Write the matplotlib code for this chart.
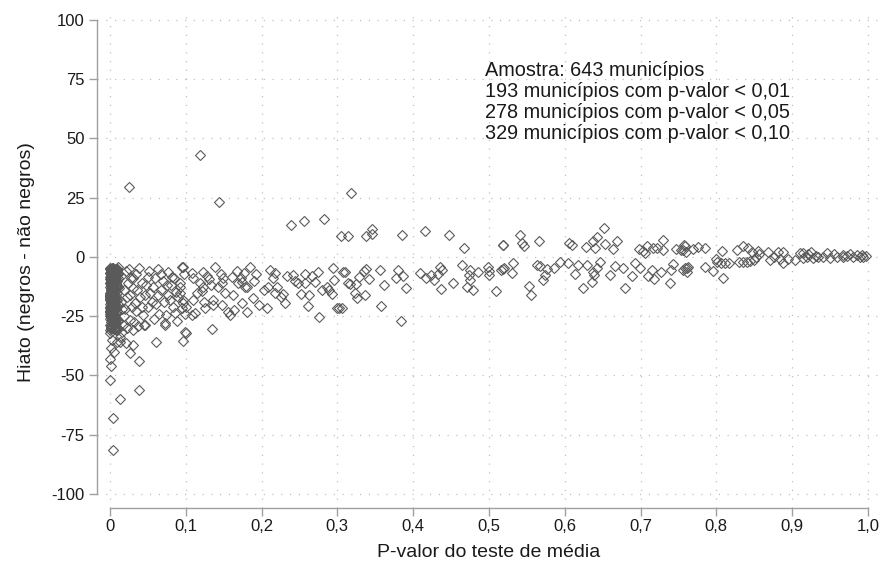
import matplotlib
matplotlib.use("Agg")
import matplotlib.pyplot as plt
from matplotlib.ticker import FuncFormatter

plt.rcParams["font.family"] = ["Liberation Sans", "DejaVu Sans"]

# --- dados (p-valor, hiato) ---
# bloco denso em p ~ 0
p_denso = [
    0.001, 0.004, 0.000, 0.007, 0.002, 0.009, 0.003, 0.001, 0.006, 0.000,
    0.008, 0.002, 0.005, 0.003, 0.010, 0.001, 0.004, 0.007, 0.000, 0.011,
    0.006, 0.002, 0.009, 0.003, 0.005, 0.001, 0.008, 0.004, 0.000, 0.010,
    0.002, 0.007, 0.005, 0.001, 0.003, 0.009, 0.006, 0.000, 0.011, 0.004,
    0.002, 0.008, 0.001, 0.005, 0.003, 0.007, 0.000, 0.010, 0.006, 0.002,
    0.004, 0.009, 0.001, 0.003, 0.008, 0.000, 0.005, 0.007, 0.002, 0.011,
    0.004, 0.001, 0.006, 0.003, 0.009, 0.000, 0.005, 0.002, 0.008, 0.007,
    0.001, 0.004, 0.010, 0.003, 0.000, 0.006, 0.002, 0.009, 0.005, 0.001,
    0.007, 0.003, 0.000, 0.008, 0.004, 0.011, 0.002, 0.006, 0.001, 0.005,
    0.009, 0.003, 0.000, 0.007, 0.004, 0.002, 0.010, 0.001, 0.006, 0.008,
    0.003, 0.005, 0.000, 0.002, 0.009, 0.004, 0.001, 0.007, 0.006, 0.003,
    0.000, 0.008, 0.005, 0.002, 0.011, 0.001, 0.004, 0.009, 0.006, 0.003,
]
h_denso = [
    -5, -12, -20, -27, -8, -15, -23, -30, -6, -18, -10, -25, -14, -29, -7, -21, -11, -17, -26, -9,
    -13, -24, -5, -19, -28, -16, -22, -6, -31, -12, -8, -20, -27, -14, -10, -23, -18, -25, -7, -15,
    -29, -11, -21, -9, -26, -13, -17, -30, -5, -24, -19, -6, -22, -12, -28, -16, -8, -20, -10, -27,
    -14, -25, -7, -18, -31, -11, -23, -15, -9, -21, -29, -13, -26, -6, -17, -19, -24, -5, -28, -12,
    -10, -22, -16, -30, -8, -20, -14, -27, -11, -25, -7, -18, -23, -9, -15, -29, -13, -21, -6, -26,
    -17, -12, -24, -19, -10, -28, -8, -22, -14, -30, -16, -5, -20, -11, -27, -9, -25, -18, -7, -23,
]
# mais municípios do mesmo bloco (p < 0,01)
p_denso2 = [
    0.000, 0.003, 0.006, 0.001, 0.004, 0.007, 0.002, 0.005, 0.008, 0.000,
    0.003, 0.006, 0.001, 0.004, 0.007, 0.002, 0.005, 0.008, 0.000, 0.003,
    0.006, 0.001, 0.004, 0.007, 0.002, 0.005, 0.008, 0.000, 0.003, 0.006,
    0.001, 0.004, 0.007, 0.002, 0.005, 0.008, 0.000, 0.003, 0.006, 0.001,
    0.004, 0.007, 0.002, 0.005, 0.008, 0.000, 0.003, 0.006, 0.001, 0.004,
    0.007, 0.002, 0.005, 0.008, 0.000, 0.003, 0.006, 0.001, 0.004, 0.007,
    0.002, 0.005, 0.008, 0.000, 0.003, 0.006, 0.001, 0.004, 0.007, 0.002,
    0.005, 0.008, 0.000, 0.003, 0.006,
]
h_denso2 = [
    -4.5, -9.5, -14.5, -19.5, -24.5, -29.5, -6.5, -11.5, -16.5, -21.5,
    -26.5, -5.5, -10.5, -15.5, -20.5, -25.5, -30.5, -7.5, -12.5, -17.5,
    -22.5, -27.5, -4.8, -8.8, -13.8, -18.8, -23.8, -28.8, -6.2, -11.2,
    -16.2, -21.2, -26.2, -30.2, -7.7, -12.7, -17.7, -22.7, -27.7, -5.1,
    -9.1, -14.1, -19.1, -24.1, -29.1, -6.8, -10.8, -15.8, -20.8, -25.8,
    -28.3, -8.3, -13.3, -18.3, -23.3, -4.6, -9.6, -14.6, -19.6, -24.6,
    -29.6, -7.1, -12.1, -17.1, -22.1, -27.1, -5.9, -10.9, -15.9, -20.9,
    -25.9, -30.9, -8.6, -13.6, -18.6,
]
# núcleo do bloco, onde os losangos se sobrepõem por completo
p_nucleo = [
    0.0015, 0.0045, 0.0025, 0.0055, 0.0005, 0.0035, 0.0015, 0.0045, 0.0025, 0.0055,
    0.0005, 0.0035, 0.0015, 0.0045, 0.0025, 0.0055, 0.0005, 0.0035, 0.0015, 0.0045,
    0.0025, 0.0055, 0.0005, 0.0035, 0.0015, 0.0045, 0.0025, 0.0055, 0.0005, 0.0035,
    0.0015, 0.0045, 0.0025, 0.0055, 0.0005, 0.0035, 0.0015, 0.0045, 0.0025, 0.0055,
    0.0005, 0.0035, 0.0015, 0.0045, 0.0025, 0.0055, 0.0005, 0.0035, 0.0015, 0.0045,
]
h_nucleo = [
    -5.3, -6.1, -7.4, -8.2, -9.3, -10.1, -11.4, -12.2, -13.3, -14.1,
    -15.4, -16.2, -17.3, -18.1, -19.4, -20.2, -21.3, -22.1, -23.4, -24.2,
    -25.3, -26.1, -4.9, -5.7, -6.9, -7.8, -8.9, -9.7, -10.9, -11.8,
    -12.9, -13.7, -14.9, -15.8, -16.9, -17.7, -18.9, -19.8, -20.9, -21.7,
    -22.9, -23.8, -24.9, -25.7, -26.6, -27.2, -6.6, -12.6, -18.7, -25.1,
]

# p entre 0,01 e 0,10 (e outliers perto de zero)
p_baixo = [
    0.011, 0.025, 0.038, 0.050, 0.067, 0.077, 0.082, 0.095, 0.024, 0.030,
    0.036, 0.042, 0.046, 0.057, 0.063, 0.068, 0.077, 0.079, 0.087, 0.090,
    0.096, 0.033, 0.029, 0.042, 0.044, 0.046, 0.026, 0.032, 0.017, 0.016,
    0.022, 0.013, 0.073, 0.074, 0.086, 0.095, 0.050, 0.055, 0.083, 0.000,
    0.003, 0.002, 0.026, 0.030, 0.039, 0.000, 0.002, 0.000, 0.013, 0.039,
    0.004, 0.004, 0.061, 0.096, 0.100, 0.045, 0.031, 0.073, 0.025, 0.013,
    0.010, 0.006, 0.021, 0.015, 0.018, 0.020, 0.021, 0.027, 0.034, 0.040,
    0.048, 0.052, 0.059, 0.061, 0.065, 0.070, 0.072, 0.080, 0.085, 0.088,
    0.092, 0.098, 0.014, 0.019, 0.023, 0.028, 0.035, 0.012, 0.016, 0.031,
    0.037, 0.053, 0.058, 0.064, 0.075, 0.093, 0.099,
]
h_baixo = [
    -4.2, -5.0, -4.6, -8.4, -7.2, -6.3, -8.4, -4.2, -11.0, -8.9,
    -13.9, -11.0, -16.0, -12.7, -16.0, -13.9, -16.0, -18.0, -14.8, -16.9,
    -19.4, -19.4, -21.0, -21.0, -24.5, -28.7, -26.6, -27.4, -28.7, -31.6,
    -30.0, -35.9, -27.8, -24.5, -23.6, -21.5, -21.0, -19.0, -21.0, -32.0,
    -35.0, -38.5, -40.5, -37.0, -44.0, -43.0, -46.0, -52.0, -60.0, -56.0,
    -68.0, -81.5, -36.0, -35.5, -32.0, -28.5, -31.0, -28.6, 29.5, -33.8,
    -36.0, -40.0, -36.5, -8.0, -14.0, -22.0, -6.0, -16.0, -7.0, -17.0,
    -12.0, -6.0, -9.0, -20.0, -24.0, -10.0, -19.0, -12.0, -9.0, -27.0,
    -11.0, -7.0, -19.0, -25.0, -17.0, -9.0, -23.0, -13.0, -22.0, -13.0,
    -29.0, -15.0, -26.0, -5.0, -12.0, -15.0, -24.0,
]

# p entre 0,10 e 0,52
p_medio = [
    0.119, 0.144, 0.239, 0.256, 0.282, 0.305, 0.314, 0.318, 0.338, 0.346,
    0.346, 0.385, 0.416, 0.447, 0.467, 0.518,
    0.096, 0.108, 0.123, 0.139, 0.149, 0.161, 0.173, 0.177, 0.185, 0.193,
    0.181, 0.162, 0.148, 0.136, 0.124, 0.112, 0.108, 0.101, 0.099, 0.135,
    0.158, 0.164, 0.174, 0.181, 0.197, 0.207, 0.211, 0.218, 0.208, 0.220,
    0.218, 0.228, 0.231, 0.233, 0.241, 0.248, 0.252, 0.257, 0.257, 0.261,
    0.263, 0.270, 0.274, 0.280, 0.276, 0.286, 0.293, 0.294, 0.296, 0.299,
    0.302, 0.307, 0.314, 0.119, 0.123, 0.134, 0.142, 0.148, 0.169, 0.174,
    0.178, 0.092, 0.096, 0.110, 0.125, 0.136, 0.156,
    0.310, 0.317, 0.325, 0.328, 0.335, 0.338, 0.342, 0.356, 0.362, 0.323,
    0.326, 0.336, 0.306, 0.358, 0.384, 0.377, 0.380, 0.387, 0.391, 0.409,
    0.417, 0.423, 0.427, 0.435, 0.438, 0.433, 0.437, 0.453, 0.465, 0.475,
    0.474, 0.475, 0.471, 0.479, 0.486, 0.499, 0.500, 0.500, 0.509, 0.516,
    0.520, 0.109, 0.121, 0.128, 0.152, 0.167, 0.190, 0.203, 0.215, 0.226,
    0.244, 0.266, 0.289, 0.189, 0.115, 0.131, 0.146,
]
h_medio = [
    43.0, 23.0, 13.5, 15.2, 16.0, 8.9, 8.7, 27.0, 9.0, 12.0,
    9.7, 9.3, 11.0, 9.3, 3.8, 5.0,
    -4.2, -6.7, -6.3, -4.2, -8.9, -8.4, -8.9, -6.7, -4.2, -7.2,
    -12.7, -16.0, -20.3, -20.3, -19.0, -23.6, -24.5, -21.0, -31.6, -30.4,
    -24.5, -22.4, -19.4, -23.2, -20.3, -21.5, -5.5, -6.7, -12.7, -12.7,
    -15.2, -15.6, -19.4, -8.0, -7.6, -11.0, -15.6, -7.2, -11.0, -20.7,
    -16.0, -10.5, -6.3, -13.9, -25.3, -12.7, -15.6, -4.6, -9.7, -21.5,
    -21.5, -6.3, -11.0, -11.0, -12.7, -11.8, -12.7, -11.0, -11.0, -10.5,
    -12.7, -12.7, -18.0, -18.0, -21.5, -18.0, -23.2,
    -6.3, -11.4, -11.4, -8.4, -6.0, -5.0, -9.3, -5.5, -11.8, -15.2,
    -17.3, -16.0, -21.5, -20.7, -27.0, -8.9, -5.5, -8.0, -13.0, -6.7,
    -8.9, -7.6, -9.7, -4.2, -5.5, -7.2, -13.5, -11.0, -3.4, -5.5,
    -7.6, -9.7, -12.7, -13.9, -6.3, -4.2, -5.9, -7.6, -14.3, -5.5,
    -4.6, -9.0, -14.5, -8.0, -15.0, -6.0, -10.0, -14.0, -9.0, -17.0,
    -10.0, -8.0, -14.0, -17.5, -15.0, -9.5, -7.0,
]

# p acima de 0,5
p_alto = [
    0.541, 0.519, 0.543, 0.546, 0.566, 0.606, 0.609, 0.628, 0.637, 0.643,
    0.640, 0.652, 0.653, 0.663, 0.669, 0.698, 0.703, 0.708, 0.706, 0.716,
    0.722, 0.730, 0.730, 0.747, 0.754, 0.757, 0.760,
    0.519, 0.532, 0.531, 0.553, 0.555, 0.564, 0.567, 0.571, 0.574, 0.577,
    0.586, 0.594, 0.604, 0.614, 0.617, 0.624, 0.629, 0.636, 0.637, 0.638,
    0.643, 0.646, 0.660, 0.666, 0.677, 0.680, 0.689, 0.693, 0.699, 0.710,
    0.715, 0.718, 0.727, 0.739, 0.740, 0.743, 0.756, 0.761,
    0.759, 0.756, 0.769, 0.776, 0.785, 0.807, 0.827, 0.835, 0.842, 0.847,
    0.855, 0.868, 0.881, 0.888, 0.910, 0.914, 0.921, 0.925, 0.946, 0.955,
    0.967, 0.976, 0.985, 0.992, 0.998,
    0.759, 0.761, 0.763, 0.785, 0.795, 0.809, 0.799, 0.801, 0.806, 0.811,
    0.817, 0.830, 0.835, 0.840, 0.844, 0.849, 0.852, 0.856, 0.871, 0.876,
    0.884, 0.888, 0.904, 0.914, 0.919, 0.927, 0.934, 0.941, 0.959, 0.967,
    0.980, 0.989, 0.895, 0.932, 0.950, 0.972, 0.994,
]
h_alto = [
    9.3, 5.0, 5.9, 4.6, 6.8, 5.9, 5.0, 4.2, 6.8, 8.4,
    3.8, 12.2, 5.5, 3.4, 6.8, 3.4, 2.5, 4.6, 1.7, 3.8,
    3.8, 7.2, 3.0, 3.4, 3.0, 5.0, 2.1,
    -5.1, -2.5, -6.8, -12.2, -16.0, -3.4, -3.8, -9.7, -7.6, -5.1,
    -4.6, -2.1, -2.5, -7.2, -3.4, -13.1, -3.4, -10.5, -6.3, -7.6,
    -4.6, -2.1, -7.6, -3.8, -4.6, -13.1, -8.0, -2.5, -4.6, -8.0,
    -5.5, -9.3, -6.3, -11.0, -5.5, -3.0, -5.5, -4.6,
    4.6, 3.0, 3.4, 4.2, 3.8, 2.5, 3.0, 4.6, 3.8, 2.1,
    2.5, 2.1, 2.1, 2.1, 1.7, 1.7, 1.3, 2.1, 1.7, 1.3,
    0.8, 1.3, 0.8, 0.8, 0.4,
    -4.6, -6.3, -4.2, -4.2, -5.9, -8.9, -0.8, -2.1, -2.5, -2.5,
    -2.5, -2.1, -2.1, -2.1, -1.7, -1.3, 0.0, 1.3, -1.3, 0.0,
    -0.8, -2.5, -1.3, -0.4, 0.0, -0.4, 0.0, 0.0, 0.0, 0.0,
    0.0, 0.0, -1.0, 0.6, -0.5, 0.3, -0.2,
]

x_ticks = [0.0, 0.1, 0.2, 0.3, 0.4, 0.5, 0.6, 0.7, 0.8, 0.9, 1.0]
y_ticks = [-100, -75, -50, -25, 0, 25, 50, 75, 100]
nota = [
    "Amostra: 643 municípios",
    "193 municípios com p-valor < 0,01",
    "278 municípios com p-valor < 0,05",
    "329 municípios com p-valor < 0,10",
]

fig = plt.figure(figsize=(8.82, 5.65), dpi=100)
ax = fig.add_axes([0.110, 0.101, 0.887, 0.872])

cinza = "#5a5a5a"
grupos = [(p_denso, h_denso), (p_denso2, h_denso2),
          (p_baixo, h_baixo), (p_medio, h_medio), (p_alto, h_alto)]
for px, hy in grupos:
    ax.plot(px, hy, linestyle="none", marker="D", markersize=5.6,
            markerfacecolor="none", markeredgecolor=cinza, markeredgewidth=0.8)
# núcleo: sobreposição total dos losangos aparece como área cheia
ax.plot(p_nucleo, h_nucleo, linestyle="none", marker="D", markersize=5.6,
        markerfacecolor=cinza, markeredgecolor=cinza, markeredgewidth=0.8,
        zorder=3)

ax.set_xlim(-0.017, 1.015)
ax.set_ylim(-105.9, 102)

ax.set_xticks(x_ticks)
ax.set_yticks(y_ticks)
ax.xaxis.set_major_formatter(FuncFormatter(
    lambda v, pos: "1,0" if v == 1 else ("0" if v == 0 else f"{v:.1f}".replace(".", ","))))
ax.yaxis.set_major_formatter(FuncFormatter(lambda v, pos: f"{int(v)}"))

ax.grid(True, color="#c0c0c0", linestyle=(0, (1, 6)), linewidth=0.9)
ax.set_axisbelow(True)

for s in ["top", "right"]:
    ax.spines[s].set_visible(False)
for s in ["left", "bottom"]:
    ax.spines[s].set_color("#a0a0a0")
    ax.spines[s].set_linewidth(1.0)
ax.spines["left"].set_bounds(-100, 100)
ax.spines["bottom"].set_bounds(0, 1)
ax.tick_params(axis="both", colors="#a0a0a0", labelcolor="#1a1a1a",
               length=6, width=1.0, labelsize=12)
ax.tick_params(axis="x", pad=2)
ax.tick_params(axis="y", pad=3)

ax.set_xlabel("P-valor do teste de média", fontsize=14, color="#1a1a1a", labelpad=7)
ax.set_ylabel("Hiato (negros - não negros)", fontsize=14, color="#1a1a1a", labelpad=12)

ax.text(0.495, 82.5, "\n".join(nota), fontsize=14.3, color="#1a1a1a",
        ha="left", va="top", linespacing=1.13)

fig.savefig("out.png", dpi=100)
